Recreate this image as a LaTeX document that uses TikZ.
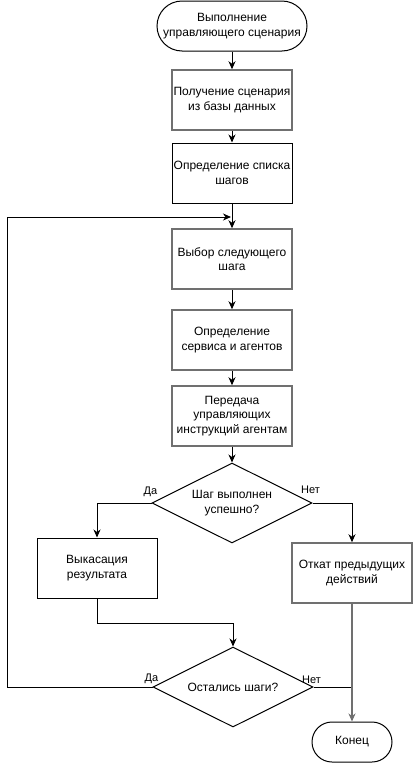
\documentclass[tikz,border=0pt]{standalone}
\usepackage{fontspec}
\setmainfont{Liberation Sans}
\usetikzlibrary{shapes.geometric}
\usetikzlibrary{arrows.meta}
\definecolor{boxgray}{RGB}{112,112,112}

\begin{document}
\begin{tikzpicture}[x=1pt,y=-1pt,every node/.style={font=\fontsize{12}{14.5}\selectfont,align=center,inner sep=0pt},
  procbox/.style={draw,line width=1pt,minimum width=120pt,minimum height=60pt},
  graybox/.style={procbox,draw=boxgray,line width=1.5pt},
  termbox/.style={draw,line width=1pt,rounded corners=#1},
  decision/.style={diamond,draw,line width=1pt,aspect=2,minimum width=160pt,minimum height=80pt},
  lbl/.style={font=\fontsize{11}{12}\selectfont},
  arr/.style={line width=1pt,-{Stealth[length=8pt,width=7pt,inset=2.5pt]}}]
  \useasboundingbox (0,0) rectangle (413,763);

  %start
  \node[termbox=25pt,minimum width=150pt,minimum height=50pt] (start) at (232,26) {Выполнение\\управляющего сценария};

  %steps
  \node[graybox] (get) at (232,100) {Получение сценария\\из базы данных};
  \node[procbox] (list) at (232,173) {Определение списка\\шагов};
  \node[graybox] (next) at (232,259) {Выбор следующего\\шага};
  \node[graybox] (serv) at (232,340) {Определение\\сервиса и агентов};
  \node[graybox] (instr) at (232,416) {Передача\\управляющих\\инструкций агентам};

  %step ok?
  \node[decision] (ok) at (232,503) {Шаг выполнен\\успешно?};
  \node[lbl,anchor=south] at ([xshift=-1pt,yshift=6pt]ok.west) {Да};
  \node[lbl,anchor=south] at ([xshift=-2pt,yshift=9pt]ok.east) {Нет};
  \node[procbox] (fix) at (97,568) {Выкасация\\результата};
  \node[graybox] (rollback) at (352,573) {Откат предыдущих\\действий};

  %steps left?
  \node[decision] (left) at (233,687) {Остались шаги?};
  \node[lbl,anchor=south] at ([xshift=-1pt,yshift=3pt]left.west) {Да};
  \node[lbl,anchor=south] at ([xshift=-2pt,yshift=3pt]left.east) {Нет};

  %end
  \node[termbox=20pt,minimum width=80pt,minimum height=40pt] (end) at (352,742) {Конец};

  %connectors
  \coordinate (back) at (231,217);
  \draw[arr] (start) -- (get);
  \draw[arr] (get) -- (list);
  \draw[arr] (list) -- (next);
  \draw[arr] (next) -- (serv);
  \draw[arr] (serv) -- (instr);
  \draw[arr] (instr) -- (ok);
  \draw[arr] (ok.west) -| (fix.north);
  \draw[arr] (ok.east) -| (rollback.north);
  \draw[arr] (fix.south) -- ++(0,25) -| (left.north);
  \draw[arr] (left.west) -- ++(-145,0) |- (back);
  \draw[line width=1pt] (left.east) -- (left.east -| end.north);
  \draw[arr,draw=boxgray,line width=1.5pt] (rollback.south) -- (end.north);
\end{tikzpicture}
\end{document}
